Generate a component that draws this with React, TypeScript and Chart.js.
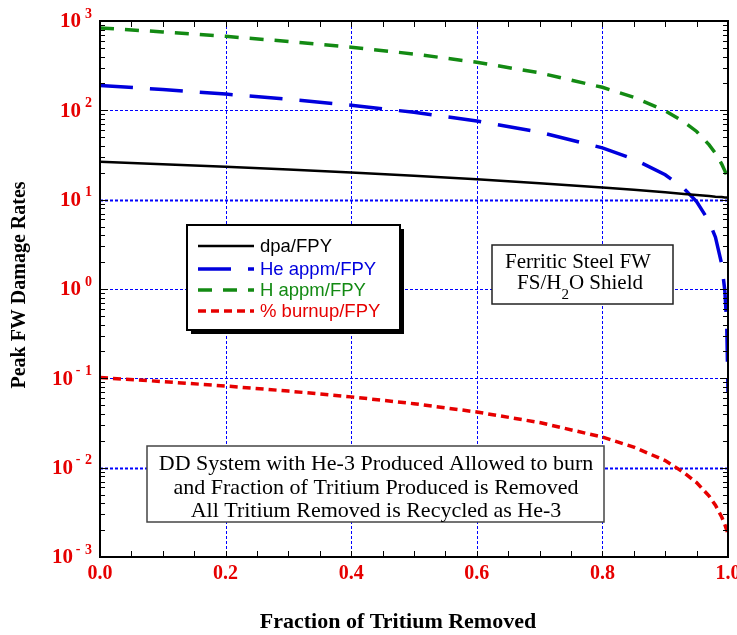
import React, { useEffect, useRef } from "react";
import { Chart, registerables } from "chart.js";

Chart.register(...registerables);

// Fraction of tritium removed
const fraction = [0, 0.1, 0.2, 0.3, 0.4, 0.5, 0.6, 0.7, 0.8, 0.85, 0.9, 0.93, 0.95, 0.97, 0.98, 0.99, 0.995, 0.998, 1.0];
const dpa = [26.5, 24.9, 23.3, 21.7, 20.1, 18.5, 16.9, 15.3, 13.7, 12.9, 12.1, 11.6, 11.3, 11.0, 10.8, 10.7, 10.6, 10.55, 10.5];
const heAppm = [190, 171, 152, 133, 114, 95, 76, 57, 38, 28.5, 19, 13.3, 9.5, 5.7, 3.8, 1.9, 0.95, 0.4, 0.07];
const hAppm = [837, 755, 673, 591, 509, 427, 345, 263, 181, 140, 99, 74, 58, 41, 33, 25, 21, 18.6, 17];
const burnup = [0.102, 0.092, 0.082, 0.072, 0.062, 0.052, 0.042, 0.032, 0.022, 0.017, 0.012, 0.0088, 0.0068, 0.0048, 0.0038, 0.0028, 0.0023, 0.002, 0.0018];

const seriesNames = ["dpa/FPY", "He appm/FPY", "H appm/FPY", "% burnup/FPY"];
const xTickLabels = ["0.0", "0.2", "0.4", "0.6", "0.8", "1.0"];
const yExponents = [-3, -2, -1, 0, 1, 2, 3];
const xTitle = "Fraction of Tritium Removed";
const yTitle = "Peak FW Damage Rates";
const noteLines = [
  "DD System with He-3 Produced Allowed to burn",
  "and Fraction of Tritium Produced is Removed",
  "All Tritium Removed is Recycled as He-3",
];

const BLACK = "#000000";
const BLUE = "#0000dd";
const GREEN = "#138a13";
const RED = "#e60000";
const GRID = "#0000ff";
const serif = "'Liberation Serif', 'Times New Roman', Times, serif";
const sans = "'Liberation Sans', Arial, Helvetica, sans-serif";

const colors = [BLACK, BLUE, GREEN, RED];
const dashes: number[][] = [[], [33, 17], [14, 11], [8, 5]];
const widths = [2.5, 3.5, 3.5, 3.5];

const decorPlugin = {
  id: "decor",
  beforeDatasetsDraw(chart: any) {
    const { ctx, chartArea: a, scales } = chart;
    const xs = scales.x, ys = scales.y;
    ctx.save();
    ctx.strokeStyle = GRID;
    ctx.setLineDash([3, 2]);
    for (const v of [0.2, 0.4, 0.6, 0.8]) {
      const x = Math.round(xs.getPixelForValue(v)) + 0.5;
      ctx.lineWidth = 1;
      ctx.beginPath();
      ctx.moveTo(x, a.top);
      ctx.lineTo(x, a.bottom);
      ctx.stroke();
    }
    for (const e of [-2, -1, 0, 1, 2]) {
      const y = Math.round(ys.getPixelForValue(Math.pow(10, e))) + 0.5;
      ctx.lineWidth = e === 1 || e === -2 ? 2 : 1;
      ctx.beginPath();
      ctx.moveTo(a.left, y);
      ctx.lineTo(a.right, y);
      ctx.stroke();
    }
    ctx.restore();
  },
  afterDatasetsDraw(chart: any) {
    const { ctx, chartArea: a, scales } = chart;
    const xs = scales.x, ys = scales.y;
    ctx.save();
    ctx.setLineDash([]);
    // frame
    ctx.strokeStyle = BLACK;
    ctx.lineWidth = 2;
    ctx.strokeRect(a.left, a.top, a.right - a.left, a.bottom - a.top);
    // x ticks
    ctx.lineWidth = 1;
    for (let i = 1; i < 20; i++) {
      const x = Math.round(xs.getPixelForValue(i * 0.05)) + 0.5;
      ctx.beginPath();
      ctx.moveTo(x, a.bottom);
      ctx.lineTo(x, a.bottom - 6);
      ctx.moveTo(x, a.top);
      ctx.lineTo(x, a.top + 6);
      ctx.stroke();
    }
    // y ticks
    for (let e = -3; e < 3; e++) {
      for (let m = 1; m <= 9; m++) {
        const y = Math.round(ys.getPixelForValue(m * Math.pow(10, e))) + 0.5;
        const len = m === 1 ? 8 : 5;
        ctx.beginPath();
        ctx.moveTo(a.left, y);
        ctx.lineTo(a.left + len, y);
        ctx.moveTo(a.right, y);
        ctx.lineTo(a.right - len, y);
        ctx.stroke();
      }
    }
    // y labels
    ctx.fillStyle = RED;
    ctx.textBaseline = "middle";
    for (const e of yExponents) {
      const y = ys.getPixelForValue(Math.pow(10, e));
      ctx.font = `bold 14px ${serif}`;
      ctx.textAlign = "right";
      ctx.fillText(String(Math.abs(e)), 92, y - 7);
      let baseRight = 81;
      if (e < 0) {
        ctx.textAlign = "center";
        ctx.fillText("-", 78, y - 8);
        baseRight = 73;
      }
      ctx.font = `bold 21px ${serif}`;
      ctx.textAlign = "right";
      ctx.fillText("10", baseRight, y + 1);
    }
    // x labels
    ctx.font = `bold 20px ${serif}`;
    ctx.textAlign = "center";
    xTickLabels.forEach((t) => {
      ctx.fillText(t, xs.getPixelForValue(parseFloat(t)), 574);
    });
    // titles
    ctx.fillStyle = BLACK;
    ctx.font = `bold 22px ${serif}`;
    ctx.fillText(xTitle, 398, 622);
    ctx.save();
    ctx.font = `bold 20px ${serif}`;
    ctx.translate(20, 285);
    ctx.rotate(-Math.PI / 2);
    ctx.fillText(yTitle, 0, 0);
    ctx.restore();

    // legend box with shadow
    const lx = 187, ly = 225, lw = 213, lh = 105;
    ctx.fillStyle = BLACK;
    ctx.fillRect(lx + 4, ly + 4, lw, lh);
    ctx.fillStyle = "#ffffff";
    ctx.fillRect(lx, ly, lw, lh);
    ctx.strokeStyle = BLACK;
    ctx.lineWidth = 2;
    ctx.strokeRect(lx, ly, lw, lh);
    const rowY = [246, 269, 290, 311];
    seriesNames.forEach((name, i) => {
      ctx.strokeStyle = colors[i];
      ctx.lineWidth = widths[i];
      ctx.setLineDash(dashes[i]);
      ctx.beginPath();
      ctx.moveTo(198, rowY[i]);
      ctx.lineTo(254, rowY[i]);
      ctx.stroke();
      ctx.setLineDash([]);
      ctx.fillStyle = colors[i];
      ctx.font = `18.5px ${sans}`;
      ctx.textAlign = "left";
      ctx.textBaseline = "middle";
      ctx.fillText(name, 260, rowY[i] + 1);
    });

    // Ferritic box
    ctx.fillStyle = "#ffffff";
    ctx.fillRect(492, 245, 181, 59);
    ctx.strokeStyle = "#222";
    ctx.lineWidth = 1.5;
    ctx.strokeRect(492, 245, 181, 59);
    ctx.fillStyle = BLACK;
    ctx.font = `21px ${serif}`;
    ctx.textAlign = "center";
    ctx.textBaseline = "middle";
    ctx.fillText("Ferritic Steel FW", 578, 262);
    // FS/H2O Shield with subscript
    const p1 = "FS/H", p2 = "2", p3 = "O Shield";
    ctx.font = `21px ${serif}`;
    const w1 = ctx.measureText(p1).width;
    const w3 = ctx.measureText(p3).width;
    ctx.font = `15px ${serif}`;
    const w2 = ctx.measureText(p2).width;
    const total = w1 + w2 + w3;
    let sx = 580 - total / 2;
    ctx.textAlign = "left";
    ctx.font = `21px ${serif}`;
    ctx.fillText(p1, sx, 283);
    sx += w1;
    ctx.font = `15px ${serif}`;
    ctx.fillText(p2, sx, 295);
    sx += w2;
    ctx.font = `21px ${serif}`;
    ctx.fillText(p3, sx, 283);

    // DD note box
    ctx.fillStyle = "#ffffff";
    ctx.fillRect(147, 446, 457, 76);
    ctx.strokeStyle = "#444";
    ctx.lineWidth = 1.5;
    ctx.strokeRect(147, 446, 457, 76);
    ctx.fillStyle = BLACK;
    ctx.font = `22px ${serif}`;
    ctx.textAlign = "center";
    const ny = [464, 488, 511];
    noteLines.forEach((t, i) => ctx.fillText(t, 376, ny[i]));
    ctx.restore();
  },
};

export default function App() {
  const ref = useRef<HTMLCanvasElement | null>(null);
  useEffect(() => {
    if (!ref.current) return;
    const series = [dpa, heAppm, hAppm, burnup];
    const chart = new Chart(ref.current, {
      type: "line",
      data: {
        datasets: series.map((vals, i) => ({
          label: seriesNames[i],
          data: fraction.map((x, j) => ({ x, y: vals[j] })),
          borderColor: colors[i],
          borderWidth: widths[i],
          borderDash: dashes[i],
          pointRadius: 0,
          tension: 0,
          fill: false,
        })),
      },
      options: {
        animation: false,
        responsive: true,
        maintainAspectRatio: false,
        layout: { padding: { left: 100, top: 21, right: 9, bottom: 78 } },
        plugins: { legend: { display: false }, tooltip: { enabled: false } },
        scales: {
          x: { type: "linear", min: 0, max: 1, display: false },
          y: { type: "logarithmic", min: 0.001, max: 1000, display: false },
        },
      },
      plugins: [decorPlugin],
    } as any);
    return () => chart.destroy();
  }, []);
  return (
    <div style={{ position: "absolute", left: 0, top: 0, width: 737, height: 635, background: "#fff" }}>
      <canvas ref={ref} />
    </div>
  );
}
